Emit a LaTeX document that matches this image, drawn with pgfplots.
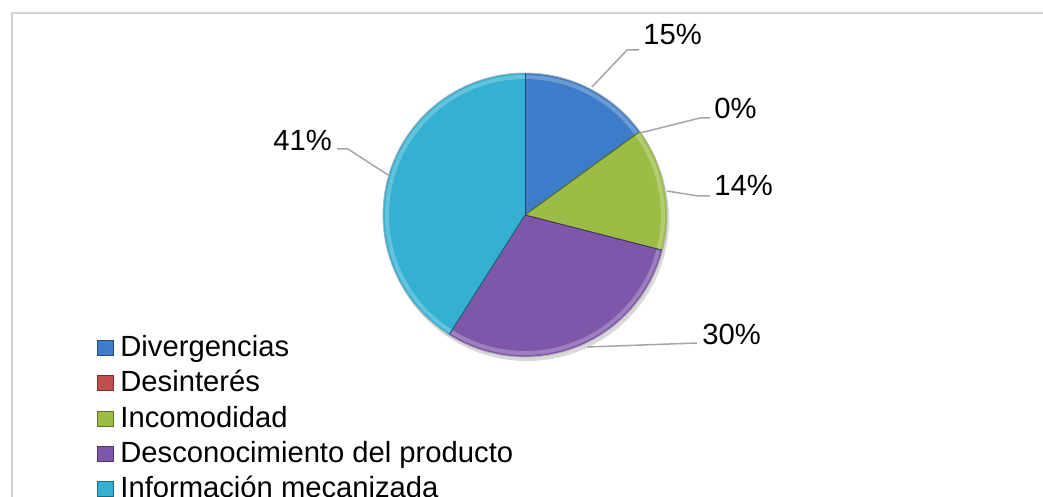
\documentclass[border=0pt]{standalone}
\usepackage{fontspec}
\setmainfont{Liberation Sans}
\usepackage{pgfplots}
\usepackage{pgfplotstable}
\usetikzlibrary{calc}
\pgfplotsset{compat=1.18}
\definecolor{cDiv}{HTML}{3C7CC8}
\definecolor{cDes}{HTML}{C0504D}
\definecolor{cInc}{HTML}{9BBD45}
\definecolor{cDco}{HTML}{7E57AA}
\definecolor{cInf}{HTML}{33B0D2}
\definecolor{lead}{HTML}{A6A6A6}
\pgfplotstableread{
value
15
0
14
30
41
}\piedata
\begin{document}
\begin{tikzpicture}
\pgfmathsetmacro\angA{90}
\pgfplotstablegetelem{0}{value}\of\piedata \pgfmathsetmacro\angB{\angA-3.6*\pgfplotsretval}
\pgfplotstablegetelem{1}{value}\of\piedata \pgfmathsetmacro\angC{\angB-3.6*\pgfplotsretval}
\pgfplotstablegetelem{2}{value}\of\piedata \pgfmathsetmacro\angD{\angC-3.6*\pgfplotsretval}
\pgfplotstablegetelem{3}{value}\of\piedata \pgfmathsetmacro\angE{\angD-3.6*\pgfplotsretval}
\pgfplotstablegetelem{4}{value}\of\piedata \pgfmathsetmacro\angF{\angE-3.6*\pgfplotsretval}
\pgfmathsetmacro\angCC{\angC-0.01}
\path[use as bounding box] (0,0) rectangle (521.5pt,248.5pt);
\clip (0,0) rectangle (521.5pt,248.5pt);
\begin{axis}[
  at={(0,0)}, anchor=south west,
  width=521.5pt, height=248.5pt, scale only axis,
  xmin=0, xmax=1043, ymin=0, ymax=497, y dir=reverse,
  hide axis, clip=false,
]
% chart border
\draw[draw=black!18, line width=0.8pt] (axis cs:12,13) rectangle (axis cs:1060,520);
% shadow
\fill[black, opacity=0.15] (axis cs:527,219) circle[radius=71pt];
% slices
\fill[cDiv] (axis cs:525,215) -- ++(\angA:71pt) arc[start angle=\angA, end angle=\angB, radius=71pt] -- cycle;
\fill[cDes] (axis cs:525,215) -- ++(\angB:71pt) arc[start angle=\angB, end angle=\angCC, radius=71pt] -- cycle;
\fill[cInc] (axis cs:525,215) -- ++(\angC:71pt) arc[start angle=\angC, end angle=\angD, radius=71pt] -- cycle;
\fill[cDco] (axis cs:525,215) -- ++(\angD:71pt) arc[start angle=\angD, end angle=\angE, radius=71pt] -- cycle;
\fill[cInf] (axis cs:525,215) -- ++(\angE:71pt) arc[start angle=\angE, end angle=\angF, radius=71pt] -- cycle;
% bevel highlights
\draw[cDiv!60!white, line width=2pt, opacity=0.6] ($(axis cs:525,215)+(\angA:69pt)$) arc[start angle=\angA, end angle=\angB, radius=69pt];
\draw[cInc!60!white, line width=2pt, opacity=0.6] ($(axis cs:525,215)+(\angC:69pt)$) arc[start angle=\angC, end angle=\angD, radius=69pt];
\draw[cDco!60!white, line width=2pt, opacity=0.6] ($(axis cs:525,215)+(\angD:69pt)$) arc[start angle=\angD, end angle=\angE, radius=69pt];
\draw[cInf!60!white, line width=2pt, opacity=0.6] ($(axis cs:525,215)+(\angE:69pt)$) arc[start angle=\angE, end angle=\angF, radius=69pt];
\draw[cDiv!55!black, line width=0.5pt] (axis cs:525,215) -- ++(\angA:71pt);
\draw[cInc!55!black, line width=0.5pt] (axis cs:525,215) -- ++(\angC:71pt);
\draw[cDco!55!black, line width=0.5pt] (axis cs:525,215) -- ++(\angD:71pt);
\draw[cInf!55!black, line width=0.5pt] (axis cs:525,215) -- ++(\angE:71pt);
\draw[black!30, line width=0.4pt] (axis cs:525,215) circle[radius=71pt];
% leader lines
\draw[lead, line width=0.75pt] (axis cs:592,87) -- (axis cs:627,50) -- (axis cs:639,50);
\draw[lead, line width=0.75pt] (axis cs:640,133) -- (axis cs:700,118) -- (axis cs:710,118);
\draw[lead, line width=0.75pt] (axis cs:667,191) -- (axis cs:698,196) -- (axis cs:710,196);
\draw[lead, line width=0.75pt] (axis cs:587,347) -- (axis cs:697,343);
\draw[lead, line width=0.75pt] (axis cs:388,175) -- (axis cs:348,149) -- (axis cs:337,149);
% data labels
\tikzset{lbl/.style={anchor=base west, inner sep=0pt, font=\fontsize{14.6}{17}\selectfont}}
\node[lbl] at (axis cs:643,45) {15\%};
\node[lbl] at (axis cs:714,119) {0\%};
\node[lbl] at (axis cs:714,196) {14\%};
\node[lbl] at (axis cs:702,344) {30\%};
\node[lbl] at (axis cs:273,151) {41\%};
% legend
\fill[cDiv, draw=cDiv!60!black, line width=0.3pt] (axis cs:97,340) rectangle (axis cs:113,355);
\node[lbl] at (axis cs:120,356) {Divergencias};
\fill[cDes, draw=cDes!60!black, line width=0.3pt] (axis cs:97,375) rectangle (axis cs:113,390);
\node[lbl] at (axis cs:120,391) {Desinterés};
\fill[cInc, draw=cInc!60!black, line width=0.3pt] (axis cs:97,411) rectangle (axis cs:113,426);
\node[lbl] at (axis cs:120,427) {Incomodidad};
\fill[cDco, draw=cDco!60!black, line width=0.3pt] (axis cs:97,446) rectangle (axis cs:113,461);
\node[lbl] at (axis cs:120,462) {Desconocimiento del producto};
\fill[cInf, draw=cInf!60!black, line width=0.3pt] (axis cs:97,481) rectangle (axis cs:113,496);
\node[lbl] at (axis cs:120,497) {Información mecanizada};
\end{axis}
\end{tikzpicture}
\end{document}
